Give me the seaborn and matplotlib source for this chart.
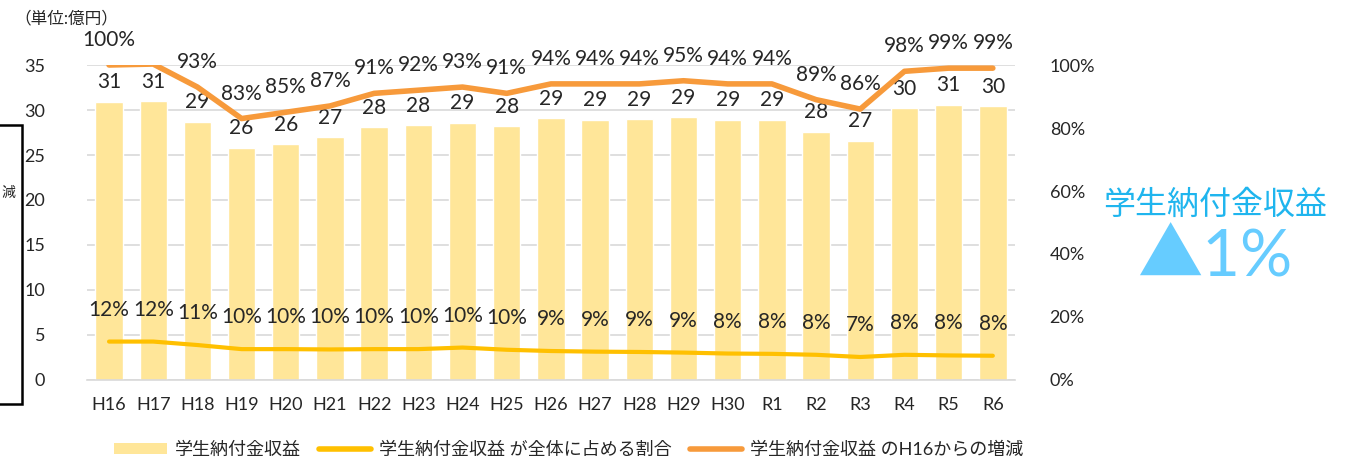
import numpy as np
import matplotlib
matplotlib.use('Agg')
import matplotlib.pyplot as plt
from matplotlib.patches import Rectangle, Patch
from matplotlib.lines import Line2D
import seaborn as sns

# データ
years = ['H16', 'H17', 'H18', 'H19', 'H20', 'H21', 'H22', 'H23', 'H24', 'H25', 'H26',
         'H27', 'H28', 'H29', 'H30', 'R1', 'R2', 'R3', 'R4', 'R5', 'R6']
# 学生納付金収益 (億円)
revenue = [30.9, 31.0, 28.7, 25.8, 26.2, 27.0, 28.1, 28.3, 28.6, 28.2, 29.1,
           28.9, 29.0, 29.2, 28.9, 28.9, 27.6, 26.6, 30.2, 30.6, 30.4]
# 全体に占める割合
share = [0.122, 0.122, 0.111, 0.098, 0.098, 0.097, 0.098, 0.098, 0.103, 0.096, 0.092,
         0.090, 0.089, 0.087, 0.084, 0.083, 0.080, 0.073, 0.080, 0.078, 0.077]
# H16からの増減
change = [1.00, 1.003, 0.93, 0.83, 0.85, 0.87, 0.91, 0.92, 0.93, 0.91, 0.94,
          0.94, 0.94, 0.95, 0.94, 0.94, 0.89, 0.86, 0.98, 0.99, 0.99]

legend_labels = ['学生納付金収益', '学生納付金収益 が全体に占める割合', '学生納付金収益 のH16からの増減']

bar_color = '#FFE699'
share_color = '#FFC000'
change_color = '#F79A3B'
grid_color = '#D9D9D9'

sns.set_style('white')
plt.rcParams['font.family'] = ['Lato', 'Noto Sans CJK JP', 'DejaVu Sans']

fig = plt.figure(figsize=(13.5, 4.62), dpi=100)
ax = fig.add_axes([0.0644, 0.1775, 0.6874, 0.6818])

x = np.arange(len(years))
sns.barplot(x=years, y=revenue, color=bar_color, width=0.62, saturation=1, ax=ax)
ax.set_ylim(0, 35)
ax.set_xlim(-0.5, len(years) - 0.5)
ax.set_yticks(range(0, 36, 5))
ax.yaxis.grid(True, color=grid_color, lw=1.2)
ax.set_axisbelow(True)
for s in ['top', 'left', 'right']:
    ax.spines[s].set_visible(False)
ax.spines['bottom'].set_color(grid_color)
ax.spines['bottom'].set_linewidth(1.2)
ax.tick_params(axis='y', length=0, pad=30, labelsize=13)
ax.tick_params(axis='x', length=0, pad=12, labelsize=13)
ax.set_xlabel('')
ax.set_ylabel('')

# 棒の値ラベル
for i, v in enumerate(revenue):
    ax.annotate(f'{v:.0f}', (i, v), xytext=(0, 14), textcoords='offset points',
                ha='center', va='center', fontsize=15)

ax2 = ax.twinx()
sns.lineplot(x=x, y=share, color=share_color, lw=3, ax=ax2)
sns.lineplot(x=x, y=change, color=change_color, lw=4, ax=ax2)
ax2.set_ylim(0, 1.0)
ax2.set_yticks(np.arange(0, 1.01, 0.2))
ax2.set_yticklabels([f'{t:.0%}' for t in np.arange(0, 1.01, 0.2)])
ax2.tick_params(axis='y', length=0, pad=25, labelsize=13)
for s in ax2.spines.values():
    s.set_visible(False)
ax2.set_ylabel('')

for i, v in enumerate(share):
    ax2.annotate(f'{v:.0%}', (i, v), xytext=(0, 23), textcoords='offset points',
                 ha='center', va='center', fontsize=15)
for i, v in enumerate(change):
    if i == 1:  # H17のラベルは表示なし
        continue
    ax2.annotate(f'{v:.0%}', (i, v), xytext=(0, 18), textcoords='offset points',
                 ha='center', va='center', fontsize=15)

# 単位
fig.text(14 / 1350, 1 - 18 / 462, '（単位:億円）', ha='left', va='center', fontsize=12)

# 左端の枠 (見切れ)
fig.add_artist(Rectangle((-0.05, 1 - 404 / 462), 0.05 + 22 / 1350, (404 - 125) / 462,
                         transform=fig.transFigure, fill=False, ec='black', lw=1.8))
fig.text(1 / 1350, 1 - 192 / 462, '減', ha='left', va='center', fontsize=10)

# 右側の注記
fig.text(1215 / 1350, 1 - 205 / 462, '学生納付金収益', ha='center', va='center',
         fontsize=23, color='#1FB5EE')
fig.text(1215 / 1350, 1 - 258 / 462, '▲1%', ha='center', va='center',
         fontsize=47, color='#66CCFF')

# 凡例
handles = [Patch(facecolor=bar_color, edgecolor='none'),
           Line2D([0], [0], color=share_color, lw=4, solid_capstyle='round'),
           Line2D([0], [0], color=change_color, lw=4, solid_capstyle='round')]
fig.legend(handles, legend_labels, loc='center', bbox_to_anchor=(569 / 1350, 1 - 450 / 462),
           ncol=3, frameon=False, fontsize=13, handlelength=2.9, handleheight=0.55,
           columnspacing=1.0, handletextpad=0.45)

fig.savefig('out.png', dpi=100)
